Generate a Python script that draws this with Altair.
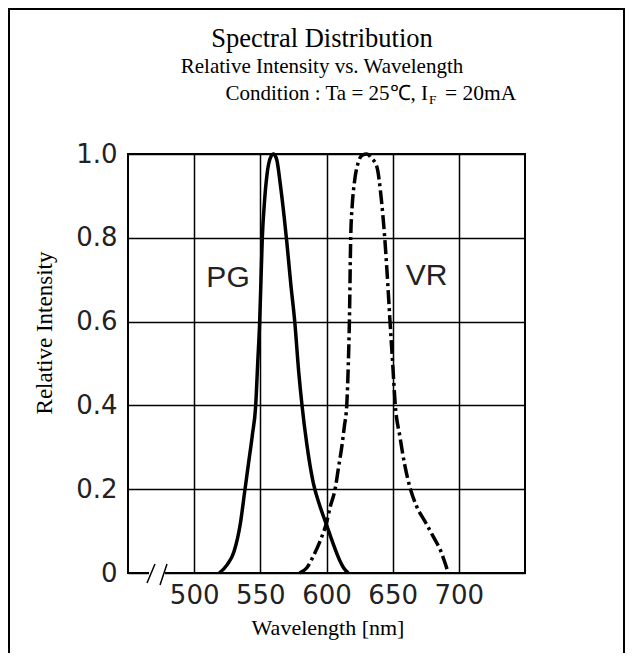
import altair as alt
import pandas as pd

# ---- data ----
pg_wl = [519, 525, 530, 535, 538, 541, 544, 546.5, 548, 549.5, 550.5, 551.5, 553, 555, 557.5, 560,
         562.5, 565, 568, 570, 573, 576, 579, 581.5, 585, 590, 595, 600, 605, 610, 613, 616.5]
pg_int = [0, 0.02, 0.05, 0.12, 0.19, 0.26, 0.33, 0.40, 0.50, 0.60, 0.70, 0.80, 0.88, 0.95, 0.99, 1.0,
          0.985, 0.93, 0.85, 0.79, 0.69, 0.60, 0.48, 0.40, 0.31, 0.215, 0.16, 0.115, 0.07, 0.03, 0.012, 0]

vr_wl = [579.5, 585, 590, 595, 600, 603, 606.5, 609, 611.5, 613.5, 615.3, 616.5, 617.3, 618.3, 619.5,
         621, 624, 627, 630.5, 634, 638, 641.5, 644, 646.5, 648, 650, 652, 655.5, 659, 663, 668,
         675, 681, 686, 690, 692]
vr_int = [0, 0.012, 0.04, 0.075, 0.12, 0.16, 0.20, 0.25, 0.30, 0.35, 0.40, 0.50, 0.60, 0.80, 0.88,
          0.93, 0.98, 0.997, 1.0, 0.99, 0.97, 0.89, 0.80, 0.68, 0.60, 0.50, 0.40, 0.325, 0.26, 0.205, 0.16,
          0.12, 0.085, 0.055, 0.02, 0]

x_ticks = [500, 550, 600, 650, 700]
y_ticks = [0, 0.2, 0.4, 0.6, 0.8, 1.0]

label_text = ["PG", "VR"]
label_wl = [525.6, 675.6]
label_int = [0.704, 0.709]

title = "Spectral Distribution"
subtitle = "Relative Intensity vs. Wavelength"
cond_main = "Condition : Ta = 25\u2103, I"
cond_sub = "F"
cond_tail = "= 20mA"
x_title = "Wavelength [nm]"
y_title = "Relative Intensity"

# ---- chart ----
xsc = alt.Scale(domain=[450, 750], nice=False, zero=False)
ysc = alt.Scale(domain=[0, 1], nice=False)

x_axis = alt.Axis(values=x_ticks, grid=True, ticks=False, domain=False, title=None,
                  labelFont="DejaVu Sans", labelFontSize=26, labelPadding=9,
                  labelColor="#222", gridColor="black", gridWidth=1.5, gridOpacity=1)
y_axis = alt.Axis(values=y_ticks, grid=True, ticks=False, domain=False, title=None,
                  labelExpr="datum.value == 0 ? '0' : format(datum.value, '.1f')",
                  labelFont="DejaVu Sans", labelFontSize=26, labelPadding=11,
                  labelColor="#222", gridColor="black", gridWidth=1.5, gridOpacity=1)

pg = alt.Chart(pd.DataFrame({"wl": pg_wl, "ri": pg_int})).mark_line(
    color="black", strokeWidth=3.5, interpolate="monotone"
).encode(
    x=alt.X("wl:Q", scale=xsc, axis=x_axis),
    y=alt.Y("ri:Q", scale=ysc, axis=y_axis),
)

vr = alt.Chart(pd.DataFrame({"wl": vr_wl, "ri": vr_int})).mark_line(
    color="black", strokeWidth=3.5, interpolate="monotone", strokeDash=[14, 4, 3, 4]
).encode(
    x=alt.X("wl:Q", scale=xsc),
    y=alt.Y("ri:Q", scale=ysc),
)

labels = alt.Chart(pd.DataFrame({"t": label_text, "wl": label_wl, "ri": label_int})).mark_text(
    font="Liberation Sans", fontSize=30, color="#222", align="center", baseline="middle"
).encode(
    x=alt.X("wl:Q", scale=xsc),
    y=alt.Y("ri:Q", scale=ysc),
    text="t:N",
)


def txt(s, x, y, size, align="center", angle=0, baseline="alphabetic"):
    kw = dict(font="Liberation Serif", fontSize=size, color="black", align=align, baseline=baseline)
    if angle:
        kw["angle"] = angle
    return alt.Chart(alt.Data(values=[{"t": s}])).mark_text(**kw).encode(
        text="t:N", x=alt.value(x), y=alt.value(y))


texts = [
    txt(title, 194, -107, 26.5),
    txt(subtitle, 194, -81, 21),
    txt(cond_main, 300, -54, 21, align="right"),
    txt(cond_sub, 301, -50, 13.5, align="left"),
    txt(cond_tail, 317, -54, 21.5, align="left"),
    txt(x_title, 200, 481, 22),
    txt(y_title, -83, 179, 23, angle=270, baseline="middle"),
]

one = alt.Data(values=[{"a": 1}])

frame = alt.Chart(one).mark_rect(filled=False, stroke="black", strokeWidth=2).encode(
    x=alt.value(-119), x2=alt.value(496), y=alt.value(-145), y2=alt.value(700))

gap = alt.Chart(one).mark_rule(color="white", strokeWidth=5).encode(
    x=alt.value(21), x2=alt.value(37), y=alt.value(419), y2=alt.value(419))
brk1 = alt.Chart(one).mark_rule(color="black", strokeWidth=1.5).encode(
    x=alt.value(19), x2=alt.value(27), y=alt.value(429), y2=alt.value(410))
brk2 = alt.Chart(one).mark_rule(color="black", strokeWidth=1.5).encode(
    x=alt.value(32), x2=alt.value(39), y=alt.value(431), y2=alt.value(410))

chart = alt.layer(pg, vr, labels, gap, brk1, brk2, frame, *texts).properties(
    width=397, height=419,
    padding={"left": 120, "top": 146, "right": 101, "bottom": 80},
    autosize=alt.AutoSizeParams(type="none"),
).configure_view(stroke="black", strokeWidth=2)

chart.save("out.html", embed_options={"renderer": "svg", "actions": False})
